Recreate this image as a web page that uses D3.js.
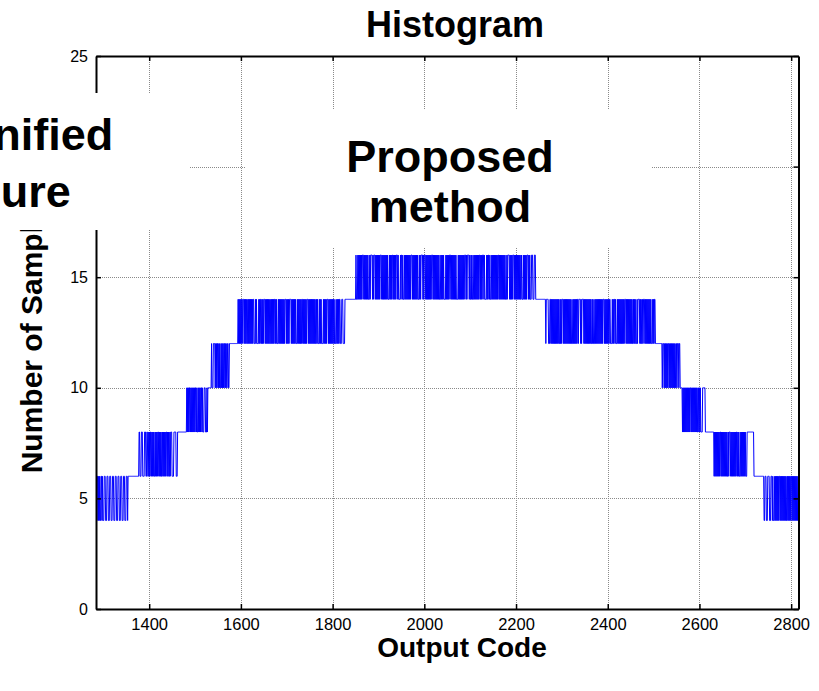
<!DOCTYPE html>
<html>
<head>
<meta charset="utf-8">
<script src="https://cdn.jsdelivr.net/npm/d3@7"></script>
<style>
  html, body { margin: 0; padding: 0; background: #fff; }
  svg { display: block; }
  text { font-family: "Liberation Sans", Arial, Helvetica, sans-serif; }
</style>
</head>
<body>
<svg id="chart" width="819" height="691"></svg>
<script>
// Histogram of output codes: each stair is a run of codes whose sample count
// toggles between two levels ('0' = lower level, '1' = upper level).
const segmentStart = [1284, 1378, 1482, 1536, 1594, 1851, 2265, 2519, 2561, 2632, 2741];
const segmentLevels = [[4, 6], [6, 8], [8, 10], [10, 12], [12, 14], [14, 16],
                       [12, 14], [10, 12], [8, 10], [6, 8], [4, 6]];
const segmentBits = [
  ["0101101010","0110100011","1000111000","1110001110","0011100011","1000111000",
   "1110001110","1111111111","1111111111","1111"].join(""),
  ["1100011100","0011100110","0101011010","1010010101","0110101010","0101010101",
   "1010100101","1100001111","1000111111","1111111111","1111"].join(""),
  ["1010101101","0101010101","1010010101","0110100011","1000101111","1111"].join(""),
  ["1000111101","0101101010","0101010110","1010011001","1111111111","11111111"].join(""),
  ["1010101010","1110101010","0101010101","0101100010","1000010101","1010101110",
   "1010101010","0101010101","1010100010","1010101010","1011101010","1011110101",
   "0101010001","0101010101","1010101010","1110101010","1010101010","0101000101",
   "0100001010","1010111010","1010101010","0100010101","0110001110","0001111111",
   "1111111111","1111111"].join(""),
  ["1000101010","1010111010","1010101000","1011110101","1101010101","0101110101",
   "0101010101","0001010101","1010101011","1010000101","1010001010","1010101010",
   "1110101010","1010100010","1011110101","1101010101","0101011101","0101010101",
   "0100010101","0100001010","1010111010","1010101010","0001010101","0101010111",
   "0101111010","0101000101","0101010101","1010101110","1000010101","1010001010",
   "1010101010","1101010101","0101010001","0111101010","1011101010","1010101010",
   "0100010101","0101110101","0001110001","1100000000","0000000000","0000"].join(""),
  ["0111110001","1010101010","1010101010","0101011101","0101010101","0101010001",
   "0101010101","1011110101","1110101010","1010101010","0101000101","0101010101",
   "0101011101","0101010101","1000010101","1010001010","1010101010","1011101010",
   "1010101010","0101010001","0111101010","0101110101","0101010101","0001010110",
   "0000000000","0000"].join(""),
  ["0111010101","0101101010","1010101010","0101110110","00"].join(""),
  ["1101010101","0101010101","1010101010","1010100101","0100001111","1100000000",
   "0000000000","0"].join(""),
  ["0101010101","0101101010","1010101010","0101110101","0101010101","1010100010",
   "1010101010","0011111111","1111111000","0000000000","000000000"].join(""),
  ["0011100011","1100011101","0001010101","0101101010","1010101010","0101010101",
   "1010101010","10101"].join("")
];

const xTicks = [1400, 1600, 1800, 2000, 2200, 2400, 2600, 2800];
const yTicks = [0, 5, 10, 15, 20, 25];
const xDomain = [1284, 2816];
const yDomain = [0, 25];

const titleText = "Histogram";
const xLabelText = "Output Code";
const yLabelText = "Number of Samples";
const notes = [
  { lines: ["Magnified", "figure"] },
  { lines: ["Proposed", "method"] }
];

// ---- build (code, count) pairs
const points = [];
segmentBits.forEach((bits, s) => {
  const lv = segmentLevels[s];
  for (let i = 0; i < bits.length; i++) {
    points.push({ code: segmentStart[s] + i, count: lv[+bits[i]] });
  }
});

// ---- layout
const svg = d3.select("#chart");
const plotL = 96, plotR = 798.5, plotT = 56, plotB = 609;
const x = d3.scaleLinear().domain(xDomain).range([plotL, plotR]);
const y = d3.scaleLinear().domain(yDomain).range([plotB, plotT]);

const defs = svg.append("defs");
defs.append("clipPath").attr("id", "plotClip")
  .append("rect").attr("x", plotL).attr("y", plotT)
  .attr("width", plotR - plotL).attr("height", plotB - plotT);
// the upper end of the y label sits behind the left note panel
defs.append("clipPath").attr("id", "ylabClip")
  .append("rect").attr("x", 0).attr("y", 230).attr("width", 90).attr("height", 400);

// grid
const grid = svg.append("g").attr("stroke", "#8a8a8a").attr("stroke-width", 1)
  .attr("stroke-dasharray", "1,1");
grid.selectAll("line.vx").data(xTicks).join("line")
  .attr("x1", d => Math.round(x(d)) + 0.5).attr("x2", d => Math.round(x(d)) + 0.5)
  .attr("y1", plotT).attr("y2", plotB);
grid.selectAll("line.hy").data(yTicks.filter(v => v > 0 && v < 25)).join("line")
  .attr("y1", d => Math.round(y(d)) + 0.5).attr("y2", d => Math.round(y(d)) + 0.5)
  .attr("x1", plotL).attr("x2", plotR);

// data line
const line = d3.line().x(d => x(d.code)).y(d => y(d.count));
svg.append("path").datum(points)
  .attr("clip-path", "url(#plotClip)")
  .attr("fill", "none").attr("stroke", "#0000ff").attr("stroke-width", 1)
  .attr("d", line);

// axes (ticks pointing inward)
function styleAxis(g, fontSize) {
  g.select(".domain").attr("stroke", "#000").attr("stroke-width", 2);
  g.selectAll(".tick line").attr("stroke", "#000").attr("stroke-width", 1.5);
  g.selectAll(".tick text").attr("fill", "#000")
    .style("font-size", fontSize + "px")
    .style("font-family", "'Liberation Sans', Arial, sans-serif");
}
const fmt = d3.format("d");
svg.append("g").attr("transform", `translate(0,${plotB})`)
  .call(d3.axisBottom(x).tickValues(xTicks).tickFormat(fmt)
    .tickSizeInner(-5).tickSizeOuter(0).tickPadding(9))
  .call(g => styleAxis(g, 16.5));
svg.append("g").attr("transform", `translate(0,${plotT})`)
  .call(d3.axisTop(x).tickValues(xTicks).tickSizeInner(-5).tickSizeOuter(0).tickFormat(""))
  .call(g => styleAxis(g, 16));
svg.append("g").attr("transform", `translate(${plotL},0)`)
  .call(d3.axisLeft(y).tickValues(yTicks).tickFormat(fmt)
    .tickSizeInner(-5).tickSizeOuter(0).tickPadding(8))
  .call(g => styleAxis(g, 16));
svg.append("g").attr("transform", `translate(${plotR},0)`)
  .call(d3.axisRight(y).tickValues(yTicks).tickSizeInner(-5).tickSizeOuter(0).tickFormat(""))
  .call(g => styleAxis(g, 16));

// titles
svg.append("text").attr("x", 455).attr("y", 37)
  .attr("text-anchor", "middle").attr("font-weight", "bold").attr("font-size", 36)
  .text(titleText);
svg.append("text").attr("x", 462).attr("y", 657)
  .attr("text-anchor", "middle").attr("font-weight", "bold").attr("font-size", 28)
  .text(xLabelText);
svg.append("g").attr("clip-path", "url(#ylabClip)")
  .append("text")
  .attr("transform", `translate(42,${(plotT + plotB) / 2}) rotate(-90)`)
  .attr("text-anchor", "middle").attr("font-weight", "bold").attr("font-size", 30)
  .text(yLabelText);

// annotation panels
const panels = [
  { x: -10, y: 93, w: 200, h: 137, cx: 8.3, base: [150, 206.5] },
  { x: 246, y: 110, w: 406, h: 137, cx: 450, base: [172, 222] }
];
panels.forEach((p, i) => {
  svg.append("rect").attr("x", p.x).attr("y", p.y).attr("width", p.w).attr("height", p.h)
    .attr("fill", "#fff");
  notes[i].lines.forEach((t, j) => {
    svg.append("text").attr("x", p.cx).attr("y", p.base[j])
      .attr("text-anchor", "middle").attr("font-weight", "bold").attr("font-size", 45)
      .text(t);
  });
});
</script>
</body>
</html>
